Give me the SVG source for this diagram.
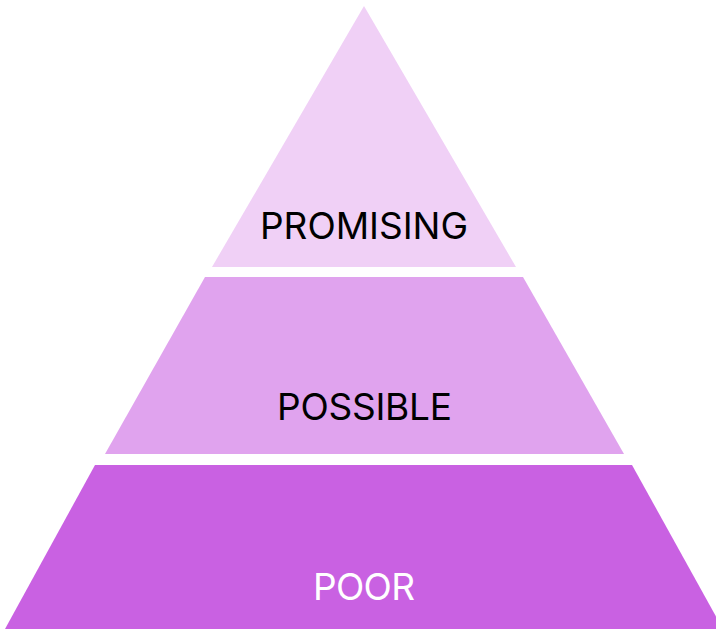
<svg xmlns="http://www.w3.org/2000/svg" width="716" height="630" viewBox="0 0 716 630">
<style>
.lbl{font-family:Inter,"Liberation Sans",sans-serif;font-size:37px;text-anchor:middle}
</style>
<rect width="716" height="630" fill="#ffffff"/>
<g id="promising">
<polygon points="364,6 516,267 212,267" fill="#f0d0f6"/>
<text class="lbl" x="364" y="239" fill="#000" textLength="208" lengthAdjust="spacing">PROMISING</text>
</g>
<g id="possible">
<polygon points="205,277 523,277 624,454 105,454" fill="#e0a3ee"/>
<text class="lbl" x="364.5" y="420" fill="#000" textLength="175" lengthAdjust="spacing">POSSIBLE</text>
</g>
<g id="poor">
<polygon points="95,465 632,465 723,629 5,629" fill="#c961e2"/>
<text class="lbl" x="364" y="600" fill="#fff" textLength="102" lengthAdjust="spacing">POOR</text>
</g>
<g id="connectors"></g>
</svg>
